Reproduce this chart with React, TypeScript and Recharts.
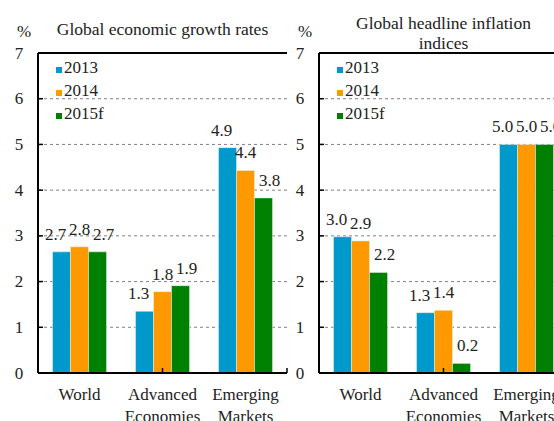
import React from "react";
import { BarChart, Bar, XAxis, YAxis, CartesianGrid, ReferenceLine, LabelList } from "recharts";

const categories = ["World", "Advanced Economies", "Emerging Markets"];
const seriesNames = ["2013", "2014", "2015f"];
const seriesColors = ["#0099CC", "#FF9900", "#008000"];
const yTicks = [0, 1, 2, 3, 4, 5, 6, 7];

const growth2013 = [2.65, 1.35, 4.93];
const growth2014 = [2.76, 1.78, 4.43];
const growth2015 = [2.65, 1.91, 3.83];
const growthLabels2013 = ["2.7", "1.3", "4.9"];
const growthLabels2014 = ["2.8", "1.8", "4.4"];
const growthLabels2015 = ["2.7", "1.9", "3.8"];

const inflation2013 = [2.98, 1.32, 5.0];
const inflation2014 = [2.89, 1.37, 5.0];
const inflation2015 = [2.2, 0.21, 5.0];
const inflationLabels2013 = ["3.0", "1.3", "5.0"];
const inflationLabels2014 = ["2.9", "1.4", "5.0"];
const inflationLabels2015 = ["2.2", "0.2", "5.0"];

const FONT = "Liberation Serif, DejaVu Serif, Times New Roman, serif";
const TEXT = "#222";
const LABEL_DX = [-6, 0, 6];

function buildRows(vals: number[][], labels: string[][]) {
  return categories.map((c, i) => ({
    cat: c,
    v0: vals[0][i],
    v1: vals[1][i],
    v2: vals[2][i],
    l0: labels[0][i],
    l1: labels[1][i],
    l2: labels[2][i],
  }));
}

const growthRows = buildRows(
  [growth2013, growth2014, growth2015],
  [growthLabels2013, growthLabels2014, growthLabels2015]
);
const inflationRows = buildRows(
  [inflation2013, inflation2014, inflation2015],
  [inflationLabels2013, inflationLabels2014, inflationLabels2015]
);

const YTick = (props: any) => {
  const { x, y, payload } = props;
  const v = payload.value;
  return (
    <g>
      <text x={x - 19} y={y} textAnchor="middle" dominantBaseline="central" fontSize={17} fontFamily={FONT} fill={TEXT}>
        {v}
      </text>
      {v > 0 && v < 7 && <line x1={x} x2={x + 5} y1={y} y2={y} stroke="#000" strokeWidth={1.5} />}
    </g>
  );
};

const XTick = (props: any) => {
  const { x, y, payload } = props;
  const words = String(payload.value).split(" ");
  return (
    <text x={x} y={y} textAnchor="middle" fontSize={17} fontFamily={FONT} fill={TEXT}>
      {words.map((w, i) => (
        <tspan key={i} x={x} y={y + 27 + i * 22}>
          {w}
        </tspan>
      ))}
    </text>
  );
};

const makeLabel = (seriesIndex: number) => (props: any) => {
  const { x, y, width, value } = props;
  return (
    <text
      x={Number(x) + Number(width) / 2 + LABEL_DX[seriesIndex]}
      y={Number(y) - 12}
      textAnchor="middle"
      fontSize={17}
      fontFamily={FONT}
      fill={TEXT}
    >
      {value}
    </text>
  );
};

function Panel({ rows, left, titleLines }: { rows: any[]; left: number; titleLines: string[] }) {
  const plotLeft = left + 38;
  const plotCenter = plotLeft + 124.5;
  return (
    <>
      <div style={{ position: "absolute", left: left + 4, top: 22, width: 40, textAlign: "center", fontFamily: FONT, fontSize: 17, color: TEXT, lineHeight: "20px" }}>
        %
      </div>
      <div
        style={{
          position: "absolute",
          left: plotCenter - 150,
          top: titleLines.length > 1 ? 13 : 19,
          width: 300,
          textAlign: "center",
          fontFamily: FONT,
          fontSize: 17.5,
          color: TEXT,
          lineHeight: "20px",
        }}
      >
        {titleLines.map((t, i) => (
          <div key={i}>{t}</div>
        ))}
      </div>
      <div style={{ position: "absolute", left, top: 0 }}>
        <BarChart
          width={300}
          height={440}
          data={rows}
          margin={{ top: 53, right: 13, left: 0, bottom: 0 }}
          barGap={0}
          barCategoryGap="17.5%"
        >
          <CartesianGrid xAxisId="cat" vertical={false} stroke="#808080" strokeDasharray="3 3" />
          <XAxis
            xAxisId="cat"
            dataKey="cat"
            interval={0}
            tickSize={0}
            tickMargin={0}
            tickLine={false}
            tick={XTick}
            height={67}
            axisLine={{ stroke: "#000", strokeWidth: 2 }}
          />
          <XAxis xAxisId="num" type="number" domain={[0, 3]} hide />
          <YAxis
            type="number"
            domain={[0, 7]}
            ticks={yTicks}
            width={38}
            tickSize={0}
            tickMargin={0}
            tickLine={false}
            tick={YTick}
            axisLine={{ stroke: "#000", strokeWidth: 2 }}
          />
          {seriesNames.map((n, i) => (
            <Bar
              key={n}
              xAxisId="cat"
              dataKey={`v${i}`}
              name={n}
              fill={seriesColors[i]}
              stroke="#e8f4e8"
              strokeWidth={0.5}
              isAnimationActive={false}
            >
              <LabelList dataKey={`l${i}`} content={makeLabel(i)} />
            </Bar>
          ))}
          <ReferenceLine xAxisId="num" y={7} stroke="#000" strokeWidth={2} />
          <ReferenceLine xAxisId="num" x={3} stroke="#000" strokeWidth={1.5} />
          <ReferenceLine xAxisId="num" segment={[{ x: 1, y: 0 }, { x: 1, y: 0.11 }]} stroke="#000" strokeWidth={1.5} />
          <ReferenceLine xAxisId="num" segment={[{ x: 2, y: 0 }, { x: 2, y: 0.11 }]} stroke="#000" strokeWidth={1.5} />
        </BarChart>
      </div>
      <div style={{ position: "absolute", left: plotLeft + 17, top: 58 }}>
        {seriesNames.map((n, i) => (
          <div key={n} style={{ position: "relative", height: 23, width: 80, fontFamily: FONT, fontSize: 17, color: TEXT, lineHeight: "20px" }}>
            <span style={{ position: "absolute", left: 1, top: 9, width: 6, height: 6, background: seriesColors[i] }} />
            <span style={{ position: "absolute", left: 9, top: 0 }}>{n}</span>
          </div>
        ))}
      </div>
    </>
  );
}

export default function App() {
  return (
    <div style={{ position: "absolute", left: 0, top: 0, width: 554, height: 421, overflow: "hidden", background: "#fff" }}>
      <Panel rows={growthRows} left={0} titleLines={["Global economic growth rates"]} />
      <Panel rows={inflationRows} left={281} titleLines={["Global headline inflation", "indices"]} />
    </div>
  );
}
